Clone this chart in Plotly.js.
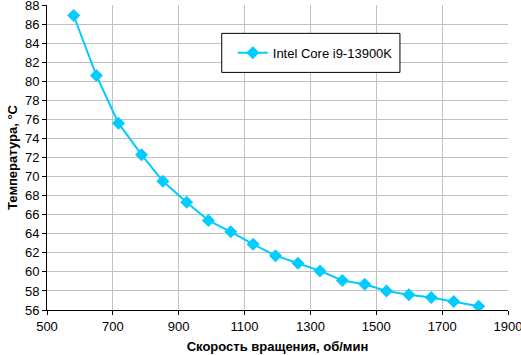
<!DOCTYPE html>
<html><head><meta charset="utf-8">
<script src="https://cdn.plot.ly/plotly-3.0.1.min.js"></script>
<style>html,body{margin:0;padding:0;background:#fff;}#chart{width:521px;height:355px;}</style>
</head><body><div id="chart"></div>
<script>
const seriesName = "Intel Core i9-13900K";
const fanSpeed = [581, 650, 717, 787, 852, 924, 990, 1058, 1126, 1194, 1262, 1329, 1397, 1465, 1531, 1599, 1667, 1735, 1811];
const temperature = [86.9, 80.6, 75.6, 72.3, 69.5, 67.3, 65.4, 64.2, 62.9, 61.7, 60.9, 60.1, 59.1, 58.7, 58.0, 57.6, 57.3, 56.9, 56.4];
const xTitle = "Скорость вращения, об/мин";
const yTitle = "Температура, °C";

const trace = {
  x: fanSpeed, y: temperature, name: seriesName, type: "scatter", mode: "lines+markers",
  line: {color: "#00ccff", width: 2},
  marker: {symbol: "diamond", size: 10, color: "#00ccff"}
};
const layout = {
  width: 521, height: 355,
  margin: {l: 47, r: 12.5, t: 5, b: 45},
  paper_bgcolor: "#fff", plot_bgcolor: "#fff",
  font: {family: "Liberation Sans, Arial, sans-serif", size: 13, color: "#000"},
  showlegend: true,
  legend: {x: 0.403, y: 0.8436, xanchor: "left", yanchor: "middle", bgcolor: "rgba(0,0,0,0)",
    borderwidth: 0, font: {size: 13}, itemwidth: 30},
  shapes: [{type: "rect", xref: "paper", yref: "paper", x0: 0.379, x1: 0.7656, y0: 0.779, y1: 0.907,
    line: {color: "#000", width: 1}, fillcolor: "#fff", layer: "above"}],
  xaxis: {range: [500, 1900], dtick: 200, tick0: 500, showgrid: true, gridcolor: "#c0c0c0", gridwidth: 1,
    showline: true, linecolor: "#000", linewidth: 1, ticks: "outside", ticklen: 4, tickcolor: "#000",
    zeroline: false, tickfont: {size: 13}, ticklabeloverflow: "allow",
    title: {text: xTitle, font: {size: 13, weight: "bold"}, standoff: 9}},
  yaxis: {range: [56, 88], dtick: 2, showgrid: true, gridcolor: "#c0c0c0", gridwidth: 1,
    showline: true, linecolor: "#000", linewidth: 1, ticks: "outside", ticklen: 4, tickcolor: "#000",
    zeroline: false, tickfont: {size: 13}, ticklabeloverflow: "allow",
    title: {text: yTitle, font: {size: 13, weight: "bold"}, standoff: 4}}
};
Plotly.newPlot("chart", [trace], layout, {displayModeBar: false, staticPlot: true});
</script></body></html>
